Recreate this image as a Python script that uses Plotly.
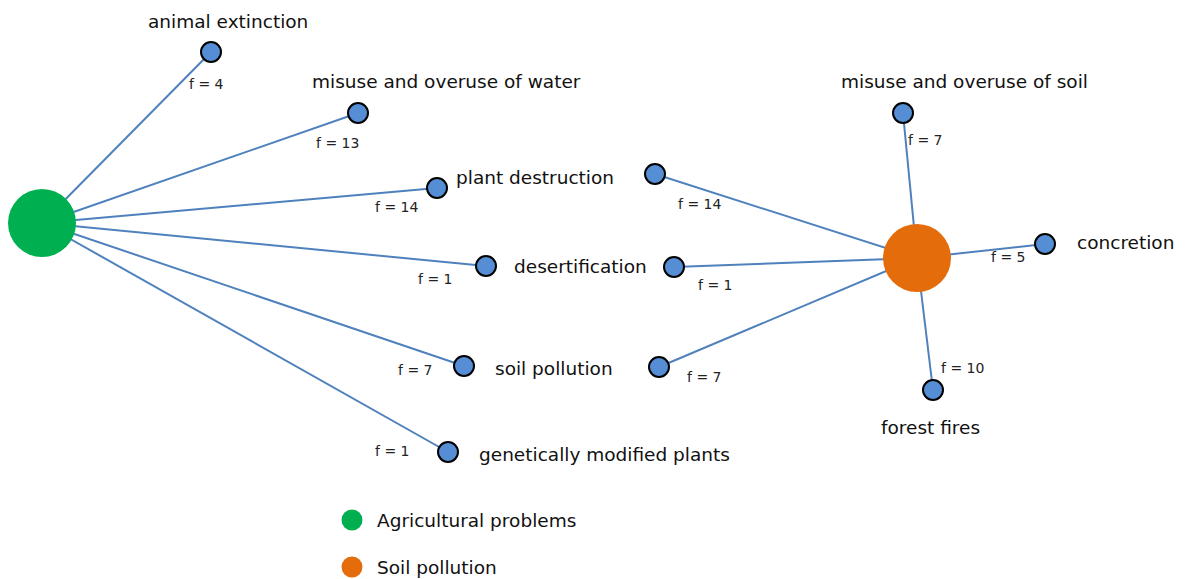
import plotly.graph_objects as go

# ---------------- data ----------------
hubs = ["Agricultural problems", "Soil pollution"]

agri_problems = ["animal extinction", "misuse and overuse of water", "plant destruction",
                 "desertification", "soil pollution", "genetically modified plants"]
agri_f = [4, 13, 14, 1, 7, 1]

soil_problems = ["plant destruction", "desertification", "soil pollution",
                 "misuse and overuse of soil", "concretion", "forest fires"]
soil_f = [14, 1, 7, 7, 5, 10]

# ---------------- layout (pixel canvas positions) ----------------
hub_x = [42, 917]
hub_y = [223, 258]
hub_colors = ["#00B050", "#E46C0A"]

agri_node_x = [211, 358, 437, 486, 464, 448]
agri_node_y = [52, 113, 188, 266, 366, 452]
agri_flab_x = [206, 337, 396, 435, 415, 392]
agri_flab_y = [84, 143, 207, 279, 370, 451]

soil_node_x = [655, 674, 659, 903, 1045, 933]
soil_node_y = [174, 267, 367, 113, 244, 390]
soil_flab_x = [699, 715, 704, 925, 1008, 962]
soil_flab_y = [204, 285, 377, 140, 257, 368]

label_names = ["animal extinction", "misuse and overuse of water", "plant destruction",
               "desertification", "soil pollution", "genetically modified plants",
               "misuse and overuse of soil", "concretion", "forest fires"]
label_x = [228, 446, 535, 580, 554, 604, 964, 1125, 930]
label_y = [21, 81, 177, 266, 368, 454, 81, 242, 427]

legend_x = 352
legend_y = [520, 567]
legend_text_x = 375

W, H = 1185, 579
FONT = "DejaVu Sans"
EDGE = "#4F81BD"
NODE = "#558ED5"

fig = go.Figure()

# edges
for hx, hy, nxs, nys in [(hub_x[0], hub_y[0], agri_node_x, agri_node_y),
                         (hub_x[1], hub_y[1], soil_node_x, soil_node_y)]:
    ex, ey = [], []
    for nx, ny in zip(nxs, nys):
        ex += [hx, nx, None]
        ey += [hy, ny, None]
    fig.add_trace(go.Scatter(x=ex, y=ey, mode="lines",
                             line=dict(color=EDGE, width=2), hoverinfo="skip",
                             showlegend=False))

# hubs
fig.add_trace(go.Scatter(x=hub_x, y=hub_y, mode="markers", text=hubs,
                         marker=dict(size=68, color=hub_colors, line=dict(width=0)),
                         hoverinfo="text", showlegend=False))

# leaf nodes
fig.add_trace(go.Scatter(x=agri_node_x + soil_node_x, y=agri_node_y + soil_node_y,
                         mode="markers", text=agri_problems + soil_problems,
                         marker=dict(size=20, color=NODE, line=dict(width=2, color="#000000")),
                         hoverinfo="text", showlegend=False))

# legend dots
fig.add_trace(go.Scatter(x=[legend_x, legend_x], y=legend_y, mode="markers",
                         marker=dict(size=21, color=hub_colors), hoverinfo="skip",
                         showlegend=False))

annotations = []
for name, x, y in zip(label_names, label_x, label_y):
    annotations.append(dict(x=x, y=y, text=name, showarrow=False, xanchor="center",
                            yanchor="middle", font=dict(family=FONT, size=18.5, color="#111111")))
for fv, x, y in zip(agri_f + soil_f, agri_flab_x + soil_flab_x, agri_flab_y + soil_flab_y):
    annotations.append(dict(x=x, y=y, text=f"f = {fv}", showarrow=False, xanchor="center",
                            yanchor="middle", font=dict(family=FONT, size=14, color="#222222")))
for name, y in zip(hubs, legend_y):
    annotations.append(dict(x=legend_text_x, y=y, text=name, showarrow=False, xanchor="left",
                            yanchor="middle", font=dict(family=FONT, size=18.5, color="#111111")))

fig.update_layout(
    width=W, height=H, margin=dict(l=0, r=0, t=0, b=0),
    paper_bgcolor="white", plot_bgcolor="white",
    xaxis=dict(range=[0, W], visible=False, fixedrange=True),
    yaxis=dict(range=[H, 0], visible=False, fixedrange=True),
    annotations=annotations,
)

fig.write_html("out.html", config={"displayModeBar": False},
               post_script="document.body.style.margin='0';document.body.style.overflow='hidden';")
